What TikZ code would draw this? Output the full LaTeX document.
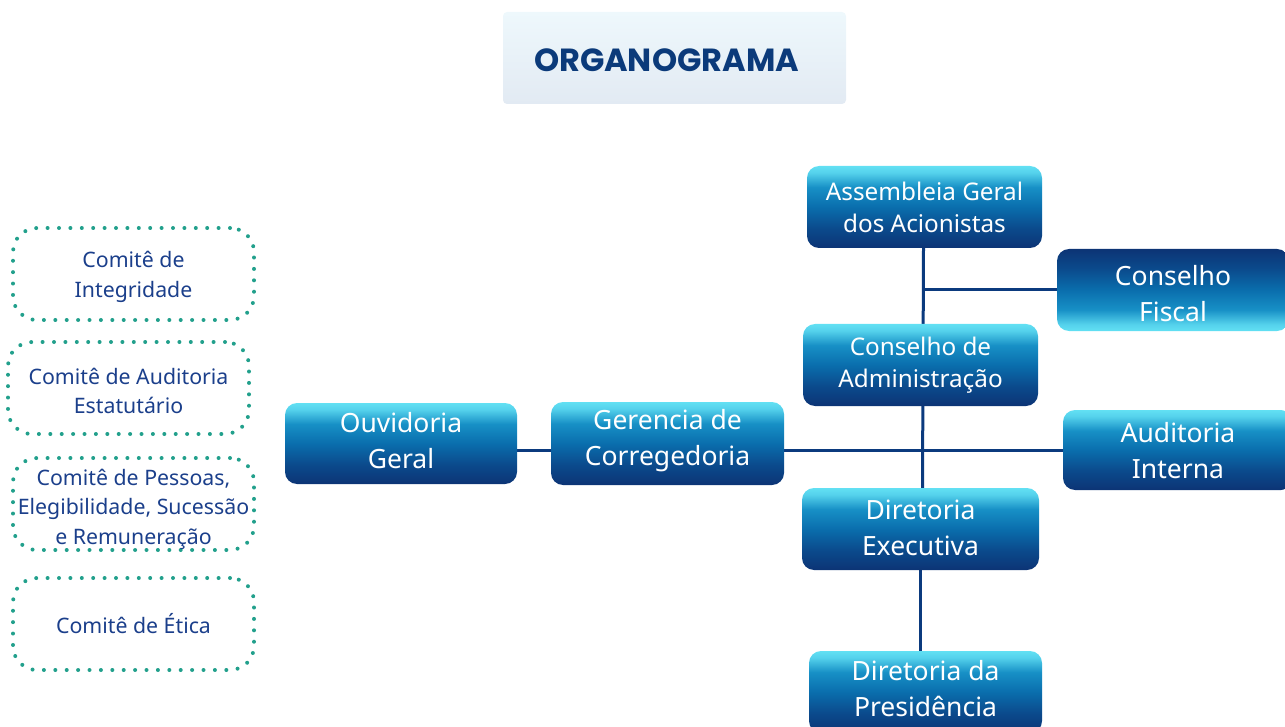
\documentclass[tikz,border=0pt]{standalone}
\usepackage{fontspec}
\setmainfont{Noto Sans}
\newfontfamily\poppins{Poppins}
\usetikzlibrary{backgrounds}
\definecolor{navy}{HTML}{0C3475}
\definecolor{linec}{HTML}{0B3A7E}
\definecolor{teal}{HTML}{22A08C}
\definecolor{comtext}{HTML}{1B3F8B}
\definecolor{titletext}{HTML}{0B3A7A}
\definecolor{gbA}{HTML}{0B4A8C}
\definecolor{gbB}{HTML}{0A6EAD}
\definecolor{gbC}{HTML}{1790C6}
\definecolor{gbD}{HTML}{55D2EC}
\definecolor{gbE}{HTML}{62E0F3}
\definecolor{tlight}{HTML}{EEF8FC}
\definecolor{tdark}{HTML}{E2EAF3}
\pgfdeclareverticalshading{bluebox}{100bp}{color(0bp)=(navy); color(25bp)=(navy); color(37bp)=(gbA); color(50bp)=(gbB); color(62bp)=(gbC); color(71bp)=(gbD); color(75bp)=(gbE); color(100bp)=(gbE)}
\pgfdeclareverticalshading{blueboxinv}{100bp}{color(0bp)=(gbE); color(25bp)=(gbE); color(29bp)=(gbD); color(38bp)=(gbC); color(50bp)=(gbB); color(63bp)=(gbA); color(75bp)=(navy); color(100bp)=(navy)}
% first-line height / last-line depth struts to place text vertically
\newcommand\toph[1]{\rule{0pt}{#1pt}}
\newcommand\botd[1]{\rule[-#1pt]{0pt}{#1pt}}
\tikzset{
  unit/.style={rounded corners=12pt, inner sep=0pt, align=center, text=white, shading=bluebox},
  unitinv/.style={unit, shading=blueboxinv},
  small/.style={font=\fontsize{24.3}{32}\selectfont},
  big/.style={font=\fontsize{26.5}{36}\selectfont},
  comite/.style={draw=teal, line width=4pt, dash pattern=on 0pt off 11.4pt, line cap=round, rounded corners=24pt, minimum width=241pt, minimum height=92pt, inner sep=0pt, align=center, text=comtext, font=\fontsize{21.3}{29.5}\selectfont},
  conn/.style={draw=linec, line width=3pt},
}
\begin{document}
\begin{tikzpicture}[x=1pt,y=-1pt]
\useasboundingbox (0,0) rectangle (1285,727);
% title
\node[rounded corners=4pt, top color=tlight, bottom color=tdark, minimum width=343pt, minimum height=92pt, inner sep=0pt] (title) at (674.5,58) {};
\node[text=titletext, font=\poppins\bfseries\fontsize{32}{36}\selectfont, anchor=center] (titletxt) at (666.5,60) {ORGANOGRAMA};
% committees
\node[comite] (integ) at (133.5,274) {\toph{24}Comitê de\\Integridade\botd{7}};
\node[comite] (audest) at (128.5,388) {\toph{29}Comitê de Auditoria\\Estatutário\botd{7}};
\node[comite] (pess) at (133.5,504) {\toph{27}Comitê de Pessoas,\\Elegibilidade, Sucessão\\e Remuneração\botd{5}};
\node[comite] (etica) at (133.5,624) {Comitê de Ética};
% org units
\node[unit, small, minimum width=235pt, minimum height=82pt] (assem) at (924.5,207) {Assembleia Geral\\dos Acionistas};
\node[unitinv, big, minimum width=232pt, minimum height=82pt] (fiscal) at (1173,290) {\toph{34}Conselho\\Fiscal\botd{7}};
\node[unit, small, minimum width=235pt, minimum height=82pt] (adm) at (920.5,365) {Conselho de\\Administração};
\node[unit, big, minimum width=232pt, minimum height=81pt] (ouv) at (401,443.5) {\toph{22}Ouvidoria\\Geral\botd{9}};
\node[unit, big, minimum width=233pt, minimum height=83pt] (ger) at (667.5,443.5) {\toph{21}Gerencia de\\Corregedoria\botd{14}};
\node[unit, big, minimum width=230pt, minimum height=80pt] (aud) at (1178,450) {\toph{27}Auditoria\\Interna\botd{7}};
\node[unit, big, minimum width=237pt, minimum height=82pt] (exe) at (920.5,529) {\toph{24}Diretoria\\Executiva\botd{7}};
\node[unit, big, minimum width=233pt, minimum height=82pt] (pres) at (925.5,692) {\toph{22}Diretoria da\\Presidência\botd{10}};
% connectors
\begin{scope}[on background layer]
\draw[conn] ([xshift=-1pt]assem.south) -- ([xshift=2pt]exe.north);
\draw[conn] (fiscal.west) -- (fiscal.west -| assem.south);
\draw[conn] (aud.west) -- (aud.west -| ger.east);
\draw[conn] (ouv.east |- aud.west) -- (ger.west |- aud.west);
\draw[conn] (exe.south) -- (exe.south |- pres.north);
\end{scope}
\end{tikzpicture}
\end{document}
